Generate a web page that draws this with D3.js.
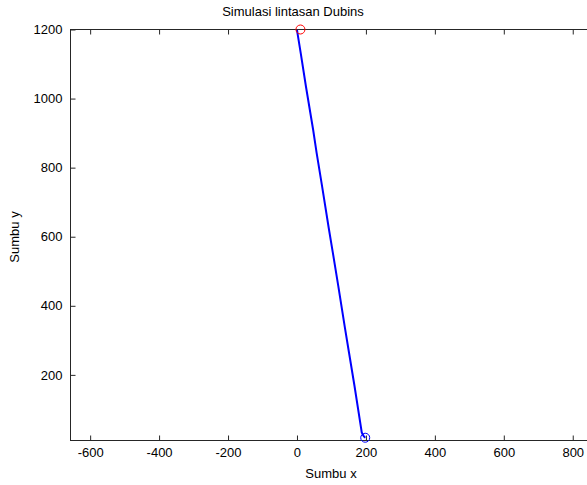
<!DOCTYPE html>
<html>
<head>
<meta charset="utf-8">
<script src="https://cdn.jsdelivr.net/npm/d3@7"></script>
<style>
  body { margin: 0; background: #fff; }
  svg text { font-family: "Liberation Sans", Arial, sans-serif; fill: #000; }
</style>
</head>
<body>
<div id="chart"></div>
<script>
// dubins path (start -> goal)
const pathX = [198, 194, 191, 188, 167, 151, 139, 120, 104, 92, 73, 57, 47, 26, 11, 3, 0]
const pathY = [18, 22, 27, 33, 167, 264, 337, 456, 554, 626, 745, 843, 909, 1035, 1131, 1180, 1199]
// start and goal markers
const startPt = [198, 18]
const goalPt = [10, 1200]
// ticks
const xTicks = [-600, -400, -200, 0, 200, 400, 600, 800]
const yTicks = [200, 400, 600, 800, 1000, 1200]
const titleText = 'Simulasi lintasan Dubins'
const xLabel = 'Sumbu x'
const yLabel = 'Sumbu y'

var width = 587, height = 485
var box = { left: 70.5, right: 595.5, top: 29.5, bottom: 440.5 }
var fontSize = 13

var x = d3.scaleLinear().domain([-657, 866]).range([box.left, box.right])
var y = d3.scaleLinear().domain([10, 1200]).range([box.bottom, box.top])

var svg = d3.select('#chart').append('svg')
  .attr('width', width)
  .attr('height', height)

svg.append('rect').attr('width', width).attr('height', height).attr('fill', '#fff')

// the box
svg.append('rect')
  .attr('x', box.left).attr('y', box.top)
  .attr('width', box.right - box.left).attr('height', box.bottom - box.top)
  .attr('fill', 'none').attr('stroke', '#262626').attr('stroke-width', 1)

// plain ints, hyphen minus like matlab
var fmt = d => String(d)

// x axis, ticks pointing in
var gx = svg.append('g')
  .attr('transform', 'translate(0,' + box.bottom + ')')
  .call(d3.axisBottom(x).tickValues(xTicks).tickFormat(fmt).tickSizeInner(-5).tickSizeOuter(0).tickPadding(7))
gx.select('.domain').remove()

var gxTop = svg.append('g')
  .attr('transform', 'translate(0,' + box.top + ')')
  .call(d3.axisTop(x).tickValues(xTicks).tickSizeInner(-5).tickSizeOuter(0).tickFormat(''))
gxTop.select('.domain').remove()

// y axis
var gy = svg.append('g')
  .attr('transform', 'translate(' + box.left + ',0)')
  .call(d3.axisLeft(y).tickValues(yTicks).tickFormat(fmt).tickSizeInner(-5).tickSizeOuter(0).tickPadding(8))
gy.select('.domain').remove()

svg.selectAll('.tick line').attr('stroke', '#262626')
svg.selectAll('.tick text').attr('font-size', fontSize).attr('font-family', '"Liberation Sans", Arial, sans-serif')

// the path
var pts = pathX.map((d, i) => [d, pathY[i]])
var line = d3.line().x(d => x(d[0])).y(d => y(d[1]))
svg.append('path')
  .datum(pts)
  .attr('d', line)
  .attr('fill', 'none')
  .attr('stroke', '#0000ff')
  .attr('stroke-width', 2)
  .attr('stroke-linejoin', 'round')

// markers
svg.append('circle')
  .attr('cx', x(startPt[0])).attr('cy', y(startPt[1])).attr('r', 4.5)
  .attr('fill', 'none').attr('stroke', '#0000ff').attr('stroke-width', 1)
svg.append('circle')
  .attr('cx', x(goalPt[0])).attr('cy', y(goalPt[1])).attr('r', 4.5)
  .attr('fill', 'none').attr('stroke', '#ff0000').attr('stroke-width', 1)

// labels
svg.append('text')
  .attr('x', 293).attr('y', 16)
  .attr('text-anchor', 'middle').attr('font-size', fontSize)
  .text(titleText)
svg.append('text')
  .attr('x', 331).attr('y', 478)
  .attr('text-anchor', 'middle').attr('font-size', fontSize)
  .text(xLabel)
svg.append('text')
  .attr('transform', 'translate(19,237) rotate(-90)')
  .attr('text-anchor', 'middle').attr('font-size', fontSize)
  .text(yLabel)
</script>
</body>
</html>
